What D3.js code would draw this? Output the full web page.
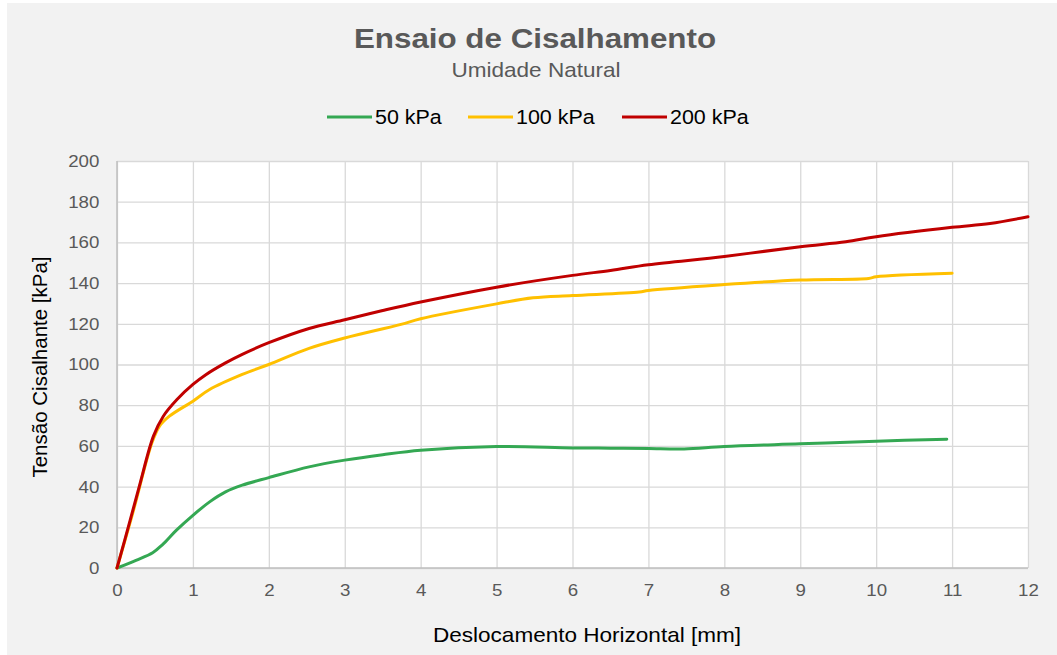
<!DOCTYPE html>
<html>
<head>
<meta charset="utf-8">
<script src="https://cdn.jsdelivr.net/npm/d3@7/dist/d3.min.js"></script>
<style>
    body { margin: 0; background: #ffffff; }
    svg { display: block; font-family: "Liberation Sans", Arial, sans-serif; }
    .grid line { stroke: #d9d9d9; stroke-width: 1.3; }
    .grid path { display: none; }
    .tickLabels text { fill: #595959; font-size: 17px; }
    .tickLabels line { display: none; }
    .tickLabels path { display: none; }
</style>
</head>
<body>
<svg id="chart" width="1057" height="655"></svg>
<script>
// values - displacement [mm] and shear stress [kPa]
let x50 = [0, 0.25, 0.47, 0.6, 0.78, 1.0, 1.22, 1.43, 1.65, 2.0, 2.53, 3.0, 3.5, 4.0, 5.0, 6.0, 6.5, 7.0, 7.47, 8.0, 9.0, 10.0, 10.93];
let y50 = [0, 3.8, 7.5, 11.5, 18.5, 25.9, 32.5, 37.4, 40.7, 44.4, 49.7, 53, 55.7, 57.9, 59.7, 59, 58.9, 58.7, 58.5, 59.7, 61, 62.3, 63.3];

let x100 = [0, 0.2, 0.46, 0.56, 0.69, 1.0, 1.22, 1.65, 2.0, 2.53, 3.0, 3.74, 4.0, 5.0, 5.48, 6.0, 6.88, 7.0, 8.0, 9.0, 9.9, 10.0, 11.0];
let y100 = [0, 26, 61.5, 69.7, 74.6, 82, 87.7, 95.1, 100, 107.9, 113, 119.7, 122.5, 129.8, 132.8, 133.9, 135.6, 136.4, 139.3, 141.5, 142.3, 143.1, 144.8];

let x200 = [0, 0.17, 0.3, 0.48, 0.61, 0.79, 1.0, 1.17, 1.43, 1.65, 2.0, 2.53, 3.0, 3.5, 4.0, 5.0, 6.0, 6.5, 7.0, 8.0, 9.0, 9.6, 10.0, 11.0, 11.5, 12.0];
let y200 = [0, 23, 41, 64.8, 74.6, 82.8, 90.2, 95, 100.8, 105, 110.7, 117.7, 122, 126.5, 130.7, 138, 143.8, 146.2, 149, 153.1, 157.9, 160.3, 162.8, 167.4, 169.3, 172.6];

let seriesNames = ['50 kPa', '100 kPa', '200 kPa'];
let seriesColors = ['#34a853', '#ffc000', '#c00000'];
let xTicks = [0, 1, 2, 3, 4, 5, 6, 7, 8, 9, 10, 11, 12];
let yTicks = [0, 20, 40, 60, 80, 100, 120, 140, 160, 180, 200];

// build the series table from the arrays
let series = [
    {name: seriesNames[0], color: seriesColors[0], pts: d3.zip(x50, y50)},
    {name: seriesNames[1], color: seriesColors[1], pts: d3.zip(x100, y100)},
    {name: seriesNames[2], color: seriesColors[2], pts: d3.zip(x200, y200)}
];

let svg = d3.select('#chart');
let width = +svg.attr('width');
let height = +svg.attr('height');

// the picture is a bit wider than tall, so text gets stretched sideways
let stretch = 1.1;

// plot area
let plot = {left: 117, right: 1028, top: 161, bottom: 568};

// chart background
svg.append('rect')
    .attr('x', 7)
    .attr('y', 3)
    .attr('width', width - 7)
    .attr('height', height - 3)
    .attr('fill', '#f2f2f2');

svg.append('rect')
    .attr('x', plot.left)
    .attr('y', plot.top)
    .attr('width', plot.right - plot.left)
    .attr('height', plot.bottom - plot.top)
    .attr('fill', '#ffffff');

// scales
let xScale = d3.scaleLinear().domain([0, 12]).range([plot.left, plot.right]);
let yScale = d3.scaleLinear().domain([0, 200]).range([plot.bottom, plot.top]);

// grid lines
svg.append('g')
    .attr('class', 'grid')
    .attr('transform', 'translate(0,' + plot.bottom + ')')
    .call(d3.axisBottom(xScale).tickValues(xTicks).tickSize(-(plot.bottom - plot.top)).tickFormat(''));
svg.append('g')
    .attr('class', 'grid')
    .attr('transform', 'translate(' + plot.left + ',0)')
    .call(d3.axisLeft(yScale).tickValues(yTicks).tickSize(-(plot.right - plot.left)).tickFormat(''));

// axis lines
svg.append('line')
    .attr('x1', plot.left).attr('x2', plot.right)
    .attr('y1', plot.bottom).attr('y2', plot.bottom)
    .attr('stroke', '#bfbfbf').attr('stroke-width', 1.5);
svg.append('line')
    .attr('x1', plot.left).attr('x2', plot.left)
    .attr('y1', plot.top).attr('y2', plot.bottom)
    .attr('stroke', '#bfbfbf').attr('stroke-width', 1.5);

// tick labels
let xLabels = svg.append('g')
    .attr('class', 'tickLabels')
    .attr('transform', 'translate(0,' + plot.bottom + ')')
    .call(d3.axisBottom(xScale).tickValues(xTicks).tickSize(0).tickPadding(16));
let yLabels = svg.append('g')
    .attr('class', 'tickLabels')
    .attr('transform', 'translate(' + plot.left + ',0)')
    .call(d3.axisLeft(yScale).tickValues(yTicks).tickSize(0).tickPadding(16));
svg.selectAll('.tickLabels').attr('font-family', null).attr('font-size', null);
xLabels.selectAll('text').attr('transform', 'scale(' + stretch + ',1)');
yLabels.selectAll('text').attr('transform', 'scale(' + stretch + ',1)');

// the curves - smoothed like the spreadsheet lines
let line = d3.line()
    .x(function(d) { return xScale(d[0]); })
    .y(function(d) { return yScale(d[1]); })
    .curve(d3.curveCatmullRom.alpha(0.5));

svg.append('g')
    .selectAll('path')
    .data(series)
    .enter()
        .append('path')
        .attr('d', function(d) { return line(d.pts); })
        .attr('fill', 'none')
        .attr('stroke', function(d) { return d.color; })
        .attr('stroke-width', 3)
        .attr('stroke-linecap', 'round')
        .attr('stroke-linejoin', 'round');

// text helper - places a sideways stretched label
function addText(x, y, txt, size, opts) {
    opts = opts || {};
    let t = svg.append('text')
        .attr('transform', 'translate(' + x + ',' + y + ') scale(' + stretch + ',1)')
        .attr('dy', opts.dy || null)
        .style('text-anchor', opts.anchor || 'middle')
        .style('font-size', size + 'px')
        .style('font-weight', opts.bold ? 'bold' : 'normal')
        .style('fill', opts.fill || '#000000')
        .text(txt);
    return t;
}

// legend
let legendX = [327, 468, 622];
series.forEach(function(s, i) {
    svg.append('line')
        .attr('x1', legendX[i]).attr('x2', legendX[i] + 45)
        .attr('y1', 117).attr('y2', 117)
        .attr('stroke', s.color)
        .attr('stroke-width', 3);
    addText(legendX[i] + 48, 117, s.name, 19.5, {anchor: 'start', dy: '0.35em'});
});

// title and subtitle
addText(535, 48, 'Ensaio de Cisalhamento', 28.5, {bold: true, fill: '#595959'});
addText(536, 77, 'Umidade Natural', 20.5, {fill: '#595959'});

// axis titles
svg.append('text')
    .attr('transform', 'translate(40,367) rotate(-90)')
    .attr('dy', '0.35em')
    .style('text-anchor', 'middle')
    .style('font-size', '20.5px')
    .style('fill', '#000000')
    .text('Tensão Cisalhante [kPa]');
addText(587, 635, 'Deslocamento Horizontal [mm]', 20.5, {dy: '0.35em'});
</script>
</body>
</html>
